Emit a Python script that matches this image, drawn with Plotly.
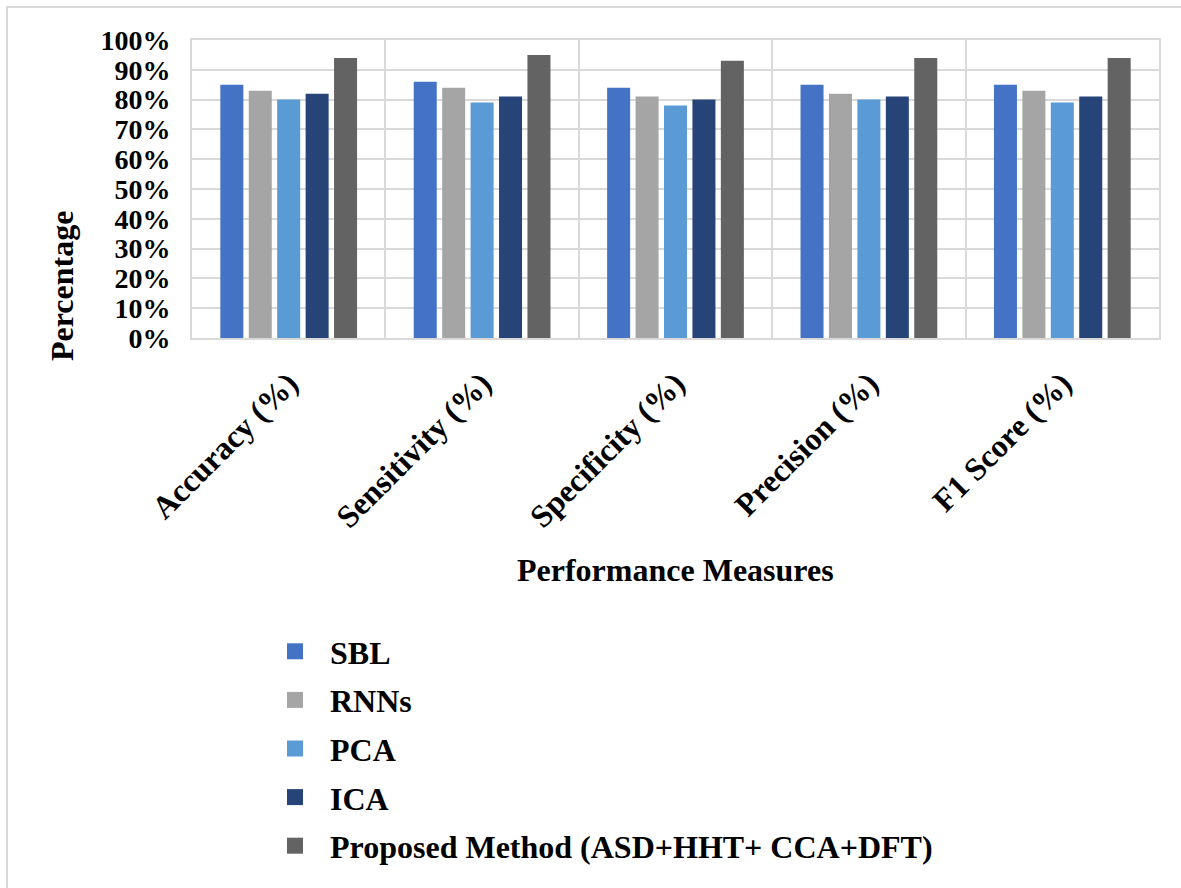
import plotly.graph_objects as go

categories = ["Accuracy (%)", "Sensitivity (%)", "Specificity (%)", "Precision (%)", "F1 Score (%)"]
sbl = [85, 86, 84, 85, 85]
rnns = [83, 84, 81, 82, 83]
pca = [80, 79, 78, 80, 79]
ica = [82, 81, 80, 81, 81]
proposed = [94, 95, 93, 94, 94]

series_names = ["SBL", "RNNs", "PCA", "ICA", "Proposed Method (ASD+HHT+ CCA+DFT)"]
series_values = [sbl, rnns, pca, ica, proposed]
series_colors = ["#4472C4", "#A5A5A5", "#5B9BD5", "#264478", "#636363"]

y_ticks = list(range(0, 101, 10))
y_tick_text = [f"{v}%" for v in y_ticks]

FONT = "Liberation Serif"
FS = 32
W, H = 1181, 888
L, R, T, B = 192, 22, 40, 550
pw, ph = W - L - R, H - T - B

fig = go.Figure()
for i, (name, vals, col) in enumerate(zip(series_names, series_values, series_colors)):
    fig.add_trace(go.Bar(
        x=categories, y=vals, name=name,
        marker=dict(color=col, line=dict(width=0)),
        showlegend=False,
    ))
    # legend swatch: square marker in the series colour
    fig.add_trace(go.Scatter(
        x=[categories[0]], y=[None], mode="markers", name=name,
        marker=dict(symbol="square", size=16, color=col),
        legendgroup=f"g{i}", showlegend=True, hoverinfo="skip",
    ))

fig.update_layout(
    width=W, height=H,
    margin=dict(l=L, r=R, t=T, b=B, autoexpand=False),
    paper_bgcolor="white", plot_bgcolor="white",
    barmode="group", bargap=0.265, bargroupgap=0.19,
    font=dict(family=FONT, color="black"),
    showlegend=True,
    legend=dict(
        x=(260 - L) / pw, xanchor="left",
        y=(H - B - 624) / ph, yanchor="top",
        orientation="v", tracegroupgap=4, itemwidth=60,
        font=dict(family=FONT, size=FS, color="black", weight="bold"),
        bgcolor="rgba(0,0,0,0)",
    ),
    xaxis=dict(
        type="category", tickson="boundaries",
        showgrid=True, gridcolor="#D9D9D9", gridwidth=2,
        showline=True, linecolor="#D9D9D9", linewidth=2, mirror=True,
        ticks="", tickangle=-45, ticklabelstandoff=12,
        tickfont=dict(family=FONT, size=FS, color="black", weight="bold"),
    ),
    yaxis=dict(
        range=[0, 100], tickvals=y_ticks, ticktext=y_tick_text,
        showgrid=True, gridcolor="#D9D9D9", gridwidth=2,
        showline=True, linecolor="#D9D9D9", linewidth=2, mirror=True,
        zeroline=False, ticks="", ticklabelstandoff=14,
        tickfont=dict(family=FONT, size=28, color="black", weight="bold"),
    ),
)

# axis titles
fig.add_annotation(
    text="<b>Percentage</b>", xref="paper", yref="paper",
    x=(62 - L) / pw, y=(H - B - 286) / ph, textangle=-90,
    xanchor="center", yanchor="middle",
    showarrow=False, font=dict(family=FONT, size=FS, color="black"),
)
fig.add_annotation(
    text="<b>Performance Measures</b>", xref="paper", yref="paper",
    x=0.5, y=(H - B - 570) / ph, xanchor="center", yanchor="middle",
    showarrow=False, font=dict(family=FONT, size=FS, color="black"),
)
# outer chart frame
fig.add_shape(
    type="rect", xref="paper", yref="paper",
    x0=(7 - L) / pw, x1=(W + 20 - L) / pw,
    y0=(H - B - (H + 20)) / ph, y1=(H - B - 7) / ph,
    line=dict(color="#D9D9D9", width=2), fillcolor="rgba(0,0,0,0)", layer="below",
)

fig.write_html("out.html")
